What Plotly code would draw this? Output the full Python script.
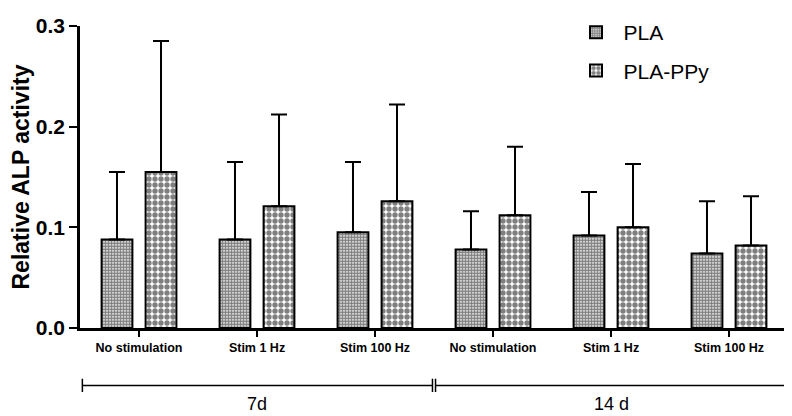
import plotly.graph_objects as go

categories = ["No stimulation", "Stim 1 Hz", "Stim 100 Hz", "No stimulation", "Stim 1 Hz", "Stim 100 Hz"]
pla_mean = [0.088, 0.088, 0.095, 0.078, 0.092, 0.074]
pla_err = [0.067, 0.077, 0.070, 0.038, 0.043, 0.052]
ppy_mean = [0.155, 0.121, 0.126, 0.112, 0.100, 0.082]
ppy_err = [0.130, 0.091, 0.096, 0.068, 0.063, 0.049]
groups = ["7d", "14 d"]
group_sizes = [3, 3]
y_ticks = [0.0, 0.1, 0.2, 0.3]

x = list(range(len(categories)))
FONT = "Arial, Liberation Sans, sans-serif"

fig = go.Figure()
fig.add_trace(go.Bar(
    x=x, y=pla_mean, name="PLA", legendgroup="a",
    marker=dict(color="white", line=dict(color="black", width=2),
                pattern=dict(shape=".", size=3, solidity=0.72, fgcolor="black", bgcolor="white")),
    error_y=dict(type="data", array=pla_err, arrayminus=[0]*len(pla_err), symmetric=False,
                 color="black", thickness=2, width=8),
))
fig.add_trace(go.Bar(
    x=x, y=ppy_mean, name="PLA-PPy", legendgroup="b",
    marker=dict(color="white", line=dict(color="black", width=2),
                pattern=dict(shape=".", size=6, solidity=0.62, fgcolor="black", bgcolor="white")),
    error_y=dict(type="data", array=ppy_err, arrayminus=[0]*len(ppy_err), symmetric=False,
                 color="black", thickness=2, width=8),
))

# group brackets below the axis
start = -0.5
shapes = []
annotations = []
y_line = -0.19
tick_h = 0.022
gap = 0.013
for gi, (g, n) in enumerate(zip(groups, group_sizes)):
    x0 = start + (0.02 if gi == 0 else gap)
    x1 = start + n - (gap if gi < len(groups) - 1 else 0.02)
    for sx0, sx1, sy0, sy1 in [(x0, x1, y_line, y_line),
                               (x0, x0, y_line - tick_h, y_line + tick_h),
                               (x1, x1, y_line - tick_h, y_line + tick_h)]:
        shapes.append(dict(type="line", xref="x", yref="paper", x0=sx0, x1=sx1, y0=sy0, y1=sy1,
                           line=dict(color="black", width=1.5)))
    annotations.append(dict(x=(start + start + n) / 2, y=y_line - 0.062, xref="x", yref="paper", text=g,
                            showarrow=False, yanchor="middle",
                            font=dict(family=FONT, size=18, color="black")))
    start = start + n

fig.update_layout(
    width=784, height=408,
    margin=dict(l=72, r=4, t=5, b=88),
    plot_bgcolor="white", paper_bgcolor="white",
    barmode="group", bargap=0.254, bargroupgap=0.3,
    shapes=shapes, annotations=annotations,
    legend=dict(x=0.69, y=1.046, xanchor="left", yanchor="top",
                font=dict(family=FONT, size=21, color="black"),
                bgcolor="rgba(0,0,0,0)", tracegroupgap=8, itemwidth=45),
    font=dict(family=FONT, color="black"),
)
fig.update_xaxes(
    tickmode="array", tickvals=x, ticktext=[f"<b>{c}</b>" for c in categories],
    range=[-0.5, len(categories) - 0.5],
    showline=True, linecolor="black", linewidth=2.5,
    ticks="outside", ticklen=6, tickwidth=2, tickcolor="black",
    tickfont=dict(family=FONT, size=12.5, color="black"), showgrid=False, zeroline=False,
)
fig.update_yaxes(
    range=[0, 0.3], tickmode="array", tickvals=y_ticks,
    ticktext=[f"<b>{v:.1f}</b>" for v in y_ticks],
    showline=True, linecolor="black", linewidth=2.5,
    ticks="outside", ticklen=8, tickwidth=2, tickcolor="black",
    tickfont=dict(family=FONT, size=21, color="black"), showgrid=False, zeroline=False,
    title=dict(text="<b>Relative ALP activity</b>", font=dict(family=FONT, size=23, color="black"), standoff=5),
)

fig.write_html("out.html")
